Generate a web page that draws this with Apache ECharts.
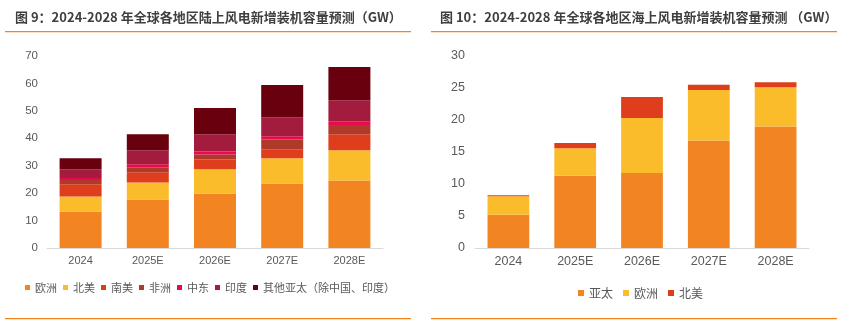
<!DOCTYPE html>
<html><head><meta charset="utf-8">
<script src="https://cdn.jsdelivr.net/npm/echarts@6/dist/echarts.min.js"></script>
<style>
html,body{margin:0;padding:0;background:#fff;}
#c1{position:absolute;left:0;top:0;width:420px;height:321px;}
#c2{position:absolute;left:420px;top:0;width:423px;height:321px;}
</style></head><body>
<div id="c1"></div><div id="c2"></div>
<script>
// Left chart: onshore
const categories = ['2024', '2025E', '2026E', '2027E', '2028E'];
const onshoreNames = ['欧洲', '北美', '南美', '非洲', '中东', '印度', '其他亚太（除中国、印度）'];
const onEurope   = [13.3, 17.7, 19.9, 23.5, 24.6];
const onNAmerica = [5.5, 6.2, 8.8, 9.2, 11.0];
const onSAmerica = [4.4, 3.7, 3.6, 3.3, 5.9];
const onAfrica   = [1.6, 1.8, 1.8, 3.6, 3.3];
const onMideast  = [0.7, 1.1, 1.1, 1.1, 1.4];
const onIndia    = [3.2, 5.1, 6.3, 7.0, 7.7];
const onOtherAP  = [4.0, 5.9, 9.5, 11.7, 12.1];
const onshoreTicks = [0, 10, 20, 30, 40, 50, 60, 70];

// Right chart: offshore
const offshoreNames = ['亚太', '欧洲', '北美'];
const offAsiaPac  = [5.2, 11.3, 11.7, 16.8, 19.0];
const offEurope   = [2.9, 4.3, 8.6, 7.9, 6.1];
const offNAmerica = [0.15, 0.8, 3.3, 0.8, 0.8];
const offshoreTicks = [0, 5, 10, 15, 20, 25, 30];

const onColors = ['#F28522', '#FBBC2C', '#DE3E1C', '#B03A2A', '#E8094F', '#A31C3E', '#69000D'];
const offColors = ['#F28522', '#FBBC2C', '#DE3E1C'];

const onData = [onEurope, onNAmerica, onSAmerica, onAfrica, onMideast, onIndia, onOtherAP];
const offData = [offAsiaPac, offEurope, offNAmerica];

const titleFont = 'bold 13px "Noto Sans CJK SC", sans-serif';
const labelFamily = '"Liberation Sans", Arial, "Noto Sans CJK SC", sans-serif';

function frame(title, tx, lx1, lx2){
  return [
    {type:'text', left:tx, top:11, z:100, style:{text:title, font:titleFont, fill:'#3f3f3f'}},
    {type:'rect', z:100, shape:{x:lx1, y:31, width:lx2-lx1, height:1.3}, style:{fill:'#F5841F'}},
    {type:'rect', z:100, shape:{x:lx1, y:318, width:lx2-lx1, height:1.3}, style:{fill:'#F5841F'}}
  ];
}

function build(names, data, colors, ticks, opts){
  return {
    animation:false,
    graphic: frame(opts.title, opts.tx, opts.lx1, opts.lx2),
    legend:{
      data:names, left:opts.legLeft, top:opts.legTop, icon:'rect',
      itemWidth:opts.mk, itemHeight:opts.mk, itemGap:opts.legGap,
      textStyle:{fontSize:opts.legFont, color:'#595959', fontFamily:'"Noto Sans CJK SC", sans-serif'},
      selectedMode:false
    },
    grid:{left:opts.gl, right:opts.gr, top:56, bottom:73},
    xAxis:{
      type:'category', data:categories,
      axisLine:{lineStyle:{color:'#d9d9d9', width:1}},
      axisTick:{show:false},
      axisLabel:{fontSize:opts.xFont, color:'#595959', margin:opts.xMargin, fontFamily:labelFamily}
    },
    yAxis:{
      type:'value', min:ticks[0], max:ticks[ticks.length-1], interval:ticks[1]-ticks[0],
      axisLine:{show:false}, axisTick:{show:false}, splitLine:{show:false},
      axisLabel:{fontSize:opts.yFont, color:'#595959', margin:opts.yMargin, fontFamily:labelFamily}
    },
    series: names.map((n,i)=>({
      name:n, type:'bar', stack:'s', data:data[i], barWidth:'62.5%',
      itemStyle:{color:colors[i]}
    }))
  };
}

const c1 = echarts.init(document.getElementById('c1'), null, {renderer:'canvas'});
c1.setOption(build(onshoreNames, onData, onColors, onshoreTicks, {
  title:'图 9：2024-2028 年全球各地区陆上风电新增装机容量预测（GW）', tx:15, lx1:5, lx2:411,
  legLeft:20, legTop:277, mk:5, legGap:6, legFont:11,
  gl:47, gr:37, xFont:11, xMargin:7, yFont:11.5, yMargin:9
}));

const c2 = echarts.init(document.getElementById('c2'), null, {renderer:'canvas'});
c2.setOption(build(offshoreNames, offData, offColors, offshoreTicks, {
  title:'图 10：2024-2028 年全球各地区海上风电新增装机容量预测 （GW）', tx:20, lx1:11, lx2:417,
  legLeft:153, legTop:282, mk:6, legGap:10, legFont:12,
  gl:55, gr:34, xFont:12.5, xMargin:7, yFont:12.5, yMargin:10
}));
</script>
</body></html>
